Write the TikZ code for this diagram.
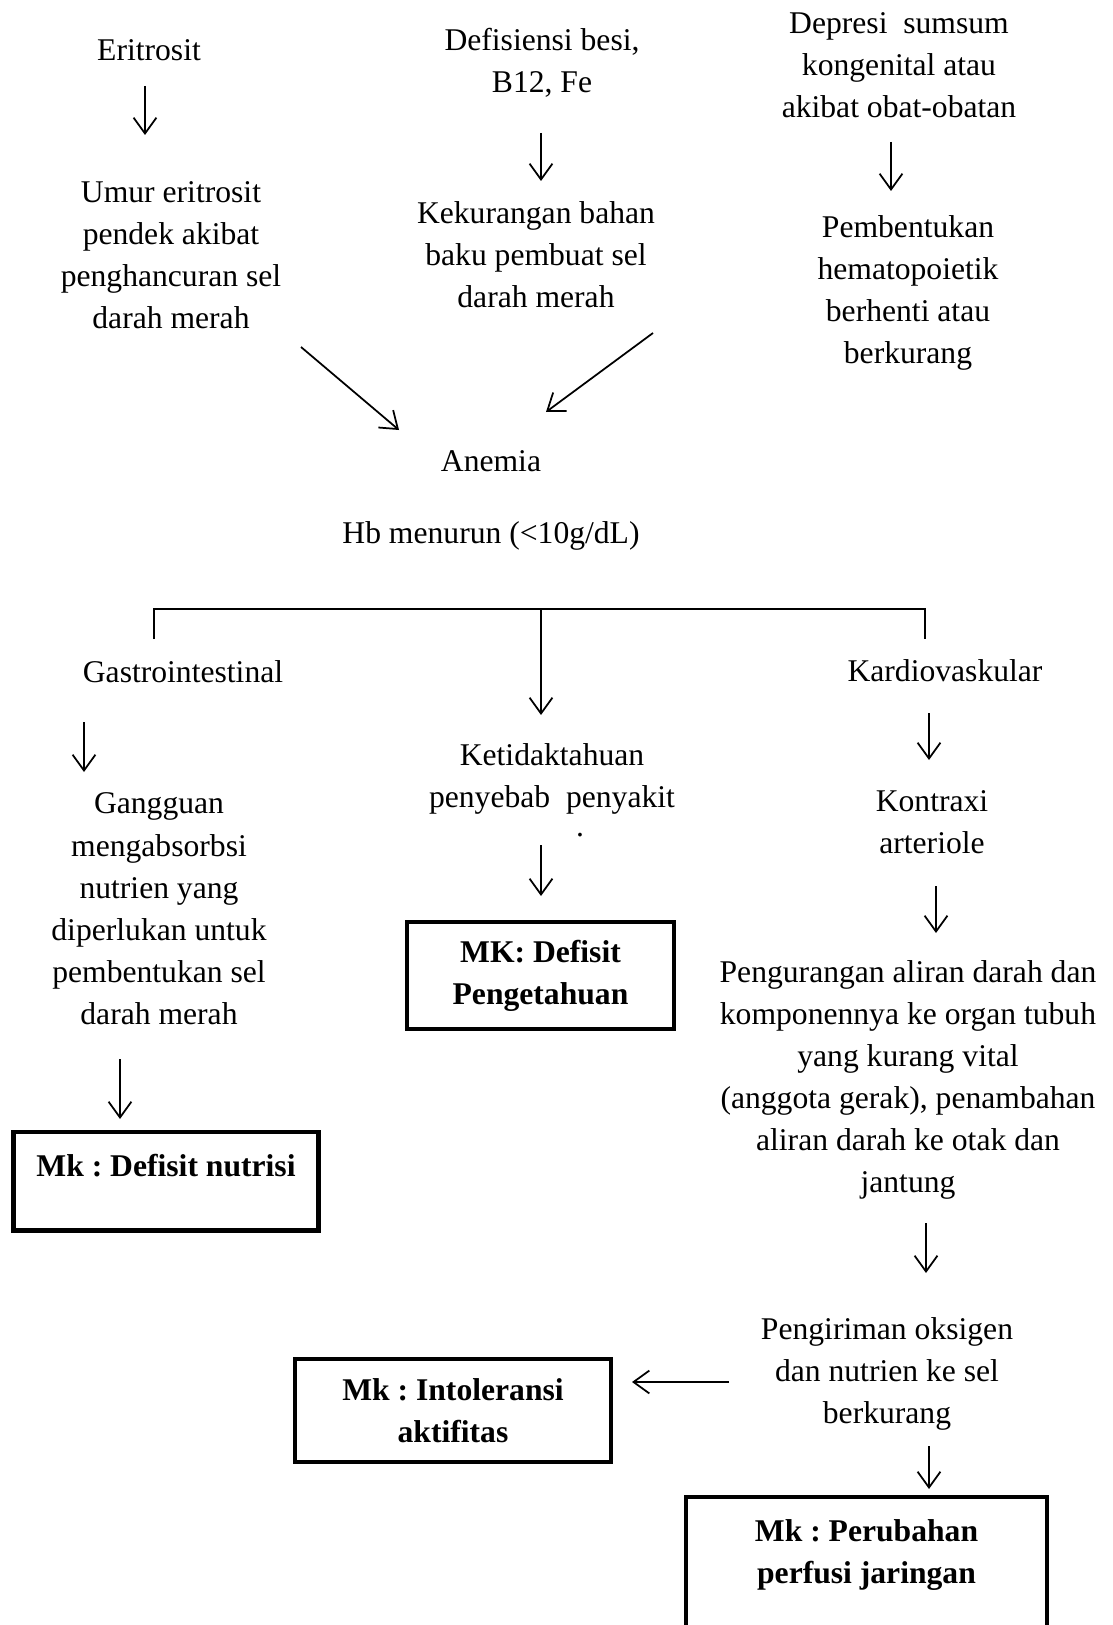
\documentclass[tikz,border=0pt]{standalone}
\usepackage{fontspec}
\setmainfont{Liberation Serif}
\usetikzlibrary{arrows.meta,calc}
\tikzset{
    teks/.style={align=center,inner sep=0pt,font=\fontsize{18}{24}\selectfont},
    mk/.style={draw,line width=2.4pt,align=center,inner sep=6pt,font=\fontsize{18}{24}\selectfont\bfseries},
    panah/.style={line width=1pt,-{Straight Barb[length=9pt,width=13pt,line width=1pt]}},
  }
\frenchspacing
\begin{document}
\begin{tikzpicture}[x=0.02cm,y=-0.02cm]
				  %frame of the page, 1112 x 1625
				  \useasboundingbox (0,0) rectangle (1112,1625);
				  \clip (0,0) rectangle (1112,1625);
				  %causes
				  \node[teks] (eri) at (149,50) {Eritrosit};
				  \node[teks] (umur) at (171,255) {Umur eritrosit\\pendek akibat\\penghancuran sel\\darah merah};
				  \node[teks] (def) at (542,63) {Defisiensi besi,\\B12, Fe};
				  \node[teks] (bahan) at (536,255) {Kekurangan bahan\\baku pembuat sel\\darah merah};
				  \node[teks] (dep) at (899,65) {Depresi\ \ sumsum\\kongenital atau\\akibat obat-obatan};
				  \node[teks] (hemato) at (908,293) {Pembentukan\\hematopoietik\\berhenti atau\\berkurang};
				  \node[teks] (anemia) at (491,461) {Anemia};
				  \node[teks] (hb) at (491,536) {Hb menurun (<10g/dL)};
				  %effects
				  \node[teks] (gastro) at (183,672) {Gastrointestinal};
				  \node[teks] (kardio) at (945,671) {Kardiovaskular};
				  \node[teks] (absorb) at (159,909) {Gangguan\\mengabsorbsi\\nutrien yang\\diperlukan untuk\\pembentukan sel\\darah merah};
				  \node[teks] (tahu) at (552,779) {Ketidaktahuan\\penyebab\ \ penyakit};
				  \node[teks] (titik) at (580,835) {.};
				  \node[teks] (kontraksi) at (932,822) {Kontraxi\\arteriole};
				  \node[teks] (aliran) at (908,1080) {Pengurangan aliran darah dan\\komponennya ke organ tubuh\\yang kurang vital\\(anggota gerak), penambahan\\aliran darah ke otak dan\\jantung};
				  \node[teks] (kirim) at (887,1374) {Pengiriman oksigen\\dan nutrien ke sel\\berkurang};
				  %diagnoses
				  \node[mk,anchor=north,minimum width=6.1cm,text height=19pt,text depth=25pt] (nutrisi) at (166,1130) {Mk : Defisit nutrisi};
				  \node[mk,minimum width=5.35cm,minimum height=2.15cm] (penget) at (540.5,975.5) {MK: Defisit\\Pengetahuan};
				  \node[mk,minimum width=6.32cm,minimum height=2.05cm] (intol) at (453,1410.5) {Mk : Intoleransi\\aktifitas};
				  \node[mk,anchor=north,minimum width=7.22cm,text height=43pt,text depth=26pt] (perfusi) at (866.5,1495) {Mk : Perubahan\\perfusi jaringan};
				  %arrow ends
				  \coordinate (e1) at (145,86);   \coordinate (e2) at (145,135);
				  \coordinate (d1) at (541,133);  \coordinate (d2) at (541,181);
				  \coordinate (p1) at (891,142);  \coordinate (p2) at (891,191);
				  \coordinate (u1) at (301,347);  \coordinate (u2) at (399,430);
				  \coordinate (k1) at (653,333);  \coordinate (k2) at (546,412);
				  \coordinate (bl) at (154,639);  \coordinate (br) at (925,639);
				  \coordinate (bm) at (541,609);  \coordinate (bm2) at (541,715);
				  \coordinate (g1) at (84,722);   \coordinate (g2) at (84,772);
				  \coordinate (n1) at (120,1059); \coordinate (n2) at (120,1119);
				  \coordinate (t1) at (541,845);  \coordinate (t2) at (541,896);
				  \coordinate (c1) at (929,713);  \coordinate (c2) at (929,760);
				  \coordinate (r1) at (936,886);  \coordinate (r2) at (936,933);
				  \coordinate (a1) at (926,1223); \coordinate (a2) at (926,1273);
				  \coordinate (h1) at (729,1382); \coordinate (h2) at (632,1382);
				  \coordinate (f1) at (929,1446); \coordinate (f2) at (929,1489);
				  \draw[panah] (e1) -- (e2);
				  \draw[panah] (d1) -- (d2);
				  \draw[panah] (p1) -- (p2);
				  \draw[panah] (u1) -- (u2);
				  \draw[panah] (k1) -- (k2);
				  \draw[line width=1pt] (bl) |- (bm) -| (br);
				  \draw[panah] (bm) -- (bm2);
				  \draw[panah] (g1) -- (g2);
				  \draw[panah] (n1) -- (n2);
				  \draw[panah] (t1) -- (t2);
				  \draw[panah] (c1) -- (c2);
				  \draw[panah] (r1) -- (r2);
				  \draw[panah] (a1) -- (a2);
				  \draw[panah] (h1) -- (h2);
				  \draw[panah] (f1) -- (f2);
\end{tikzpicture}
\end{document}
